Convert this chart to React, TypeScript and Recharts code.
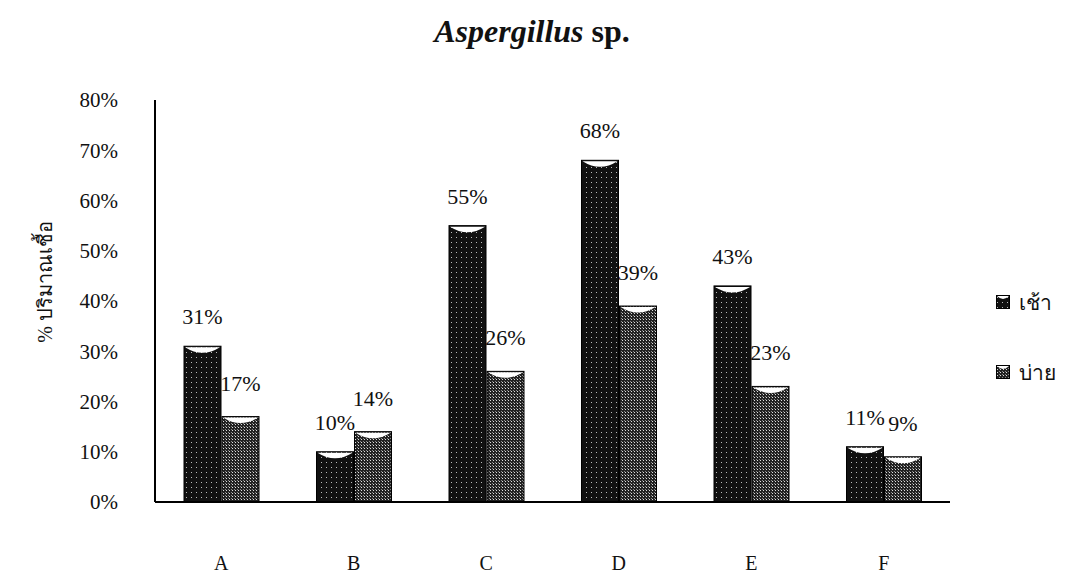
import { BarChart, Bar, XAxis, YAxis, LabelList } from 'recharts';

const categories = ['A', 'B', 'C', 'D', 'E', 'F'];
const morning = [31, 10, 55, 68, 43, 11];
const afternoon = [17, 14, 26, 39, 23, 9];
const yTicks = [0, 10, 20, 30, 40, 50, 60, 70, 80];

const SERIES = [
  { key: 'morning', name: 'เช้า', fill: 'url(#dotDark)' },
  { key: 'afternoon', name: 'บ่าย', fill: 'url(#dotGray)' },
];

const data = categories.map((c, i) => ({ cat: c, morning: morning[i], afternoon: afternoon[i] }));

const SERIF = '"Liberation Serif", "DejaVu Serif", serif';

// bar with the little white "cup" at the top like the scanned original
function CupBar(props: any) {
  const { x, y, width, height, fill } = props;
  if (!height || height <= 0) return null;
  return (
    <g>
      <rect x={x} y={y} width={width} height={height} fill={fill} stroke="#000" strokeWidth={1} />
      <path
        d={`M${x + 1},${y + 1} L${x + width - 1},${y + 1} Q${x + width / 2},${y + 12} ${x + 1},${y + 1} Z`}
        fill="#fff"
      />
    </g>
  );
}

function LegendBox() {
  return (
    <div style={{ position: 'absolute', left: 996, top: 290, fontFamily: SERIF, fontSize: 21, color: '#111' }}>
      {SERIES.map((s, i) => (
        <div key={s.key} style={{ display: 'flex', alignItems: 'center', height: 24, marginBottom: i === 0 ? 46 : 0 }}>
          <svg width={14} height={14} style={{ marginRight: 9 }}>
            <rect x={0.5} y={0.5} width={13} height={13} fill={s.fill} stroke="#000" />
            <path d="M1,1 L13,1 Q7,7 1,1 Z" fill="#fff" />
          </svg>
          <span>{s.name}</span>
        </div>
      ))}
    </div>
  );
}

export default function App() {
  return (
    <div style={{ position: 'relative', width: 1075, height: 582, margin: -8, background: '#fff', overflow: 'hidden' }}>
      <div
        style={{
          position: 'absolute',
          top: 13,
          left: 0,
          width: 1064,
          textAlign: 'center',
          fontFamily: SERIF,
          fontWeight: 'bold',
          fontSize: 32,
          color: '#111',
          whiteSpace: 'nowrap',
        }}
      >
        <i>Aspergillus</i> sp.
      </div>
      <div
        style={{
          position: 'absolute',
          left: 45,
          top: 282,
          transform: 'translate(-50%, -50%) rotate(-90deg)',
          fontFamily: SERIF,
          fontSize: 20,
          color: '#111',
          whiteSpace: 'nowrap',
        }}
      >
        % ปริมาณเชื้อ
      </div>
      <BarChart
        width={1075}
        height={582}
        data={data}
        margin={{ top: 100, right: 125, bottom: 50, left: 0 }}
        barCategoryGap="22%"
        barGap={1}
      >
        <defs>
          <pattern id="dotDark" width="5" height="5" patternUnits="userSpaceOnUse">
            <rect width="5" height="5" fill="#111" />
            <rect x="1" y="2" width="1" height="1" fill="#bbb" />
          </pattern>
          <pattern id="dotGray" width="3" height="3" patternUnits="userSpaceOnUse">
            <rect width="3" height="3" fill="#222" />
            <rect x="1" y="1" width="1" height="1" fill="#ddd" />
            <rect x="0" y="0" width="1" height="1" fill="#888" />
          </pattern>
        </defs>
        <XAxis
          dataKey="cat"
          axisLine={{ stroke: '#000', strokeWidth: 2 }}
          tickLine={false}
          tickMargin={48}
          tick={{ fontSize: 20, fill: '#111', fontFamily: SERIF }}
        />
        <YAxis
          width={155}
          domain={[0, 80]}
          ticks={yTicks}
          interval={0}
          tickFormatter={(v) => `${v}%`}
          axisLine={{ stroke: '#000', strokeWidth: 2 }}
          tickLine={false}
          tickMargin={31}
          tick={{ fontSize: 21, fill: '#111', fontFamily: SERIF }}
        />
        {SERIES.map((s) => (
          <Bar key={s.key} dataKey={s.key} name={s.name} fill={s.fill} barSize={37} shape={<CupBar />} isAnimationActive={false}>
            <LabelList
              dataKey={s.key}
              position="top"
              offset={s.key === 'morning' ? 22 : 26}
              formatter={(v: any) => `${v}%`}
              style={{ fontSize: 22, fill: '#111', fontFamily: SERIF }}
            />
          </Bar>
        ))}
      </BarChart>
      <LegendBox />
    </div>
  );
}
